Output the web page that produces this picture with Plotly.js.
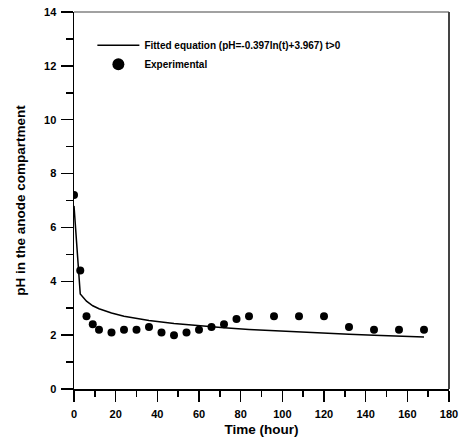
<!DOCTYPE html>
<html>
<head>
<meta charset="utf-8">
<script src="https://cdn.plot.ly/plotly-3.0.1.min.js"></script>
<style>
html,body{margin:0;padding:0;background:#fff;}
#chart{width:459px;height:443px;}
</style>
</head>
<body>
<div id="chart"></div>
<script>
// Experimental data
var timeExp = [0, 3, 6, 9, 12, 18, 24, 30, 36, 42, 48, 54, 60, 66, 72, 78, 84, 96, 108, 120, 132, 144, 156, 168];
var pHExp   = [7.2, 4.4, 2.7, 2.4, 2.2, 2.1, 2.2, 2.2, 2.3, 2.1, 2.0, 2.1, 2.2, 2.3, 2.4, 2.6, 2.7, 2.7, 2.7, 2.7, 2.3, 2.2, 2.2, 2.2];

// Fitted curve
var timeFit = [0, 3, 6, 9, 12, 18, 24, 36, 48, 60, 72, 84, 96, 108, 120, 132, 144, 156, 168];
var pHFit   = [6.8, 3.53, 3.26, 3.09, 2.98, 2.82, 2.70, 2.54, 2.43, 2.34, 2.27, 2.21, 2.16, 2.11, 2.07, 2.03, 2.00, 1.96, 1.93];

var xTicks = [0, 20, 40, 60, 80, 100, 120, 140, 160, 180];
var yTicks = [0, 2, 4, 6, 8, 10, 12, 14];

var fitName = 'Fitted equation (pH=-0.397ln(t)+3.967) t>0';
var expName = 'Experimental';

var FONT = 'Liberation Sans, Arial, Helvetica, sans-serif';

var traces = [
  {x: timeFit, y: pHFit, mode: 'lines', name: fitName, line: {color: '#000', width: 1.5}, showlegend: true},
  {x: timeExp, y: pHExp, mode: 'markers', name: expName, marker: {color: '#000', size: 8}, showlegend: false},
  {x: [null], y: [null], mode: 'markers', name: expName, marker: {color: '#000', size: 12}, showlegend: true}
];

var layout = {
  width: 459, height: 443,
  margin: {l: 74, r: 10, t: 12, b: 54},
  paper_bgcolor: '#fff', plot_bgcolor: '#fff',
  font: {family: FONT, color: '#000', weight: 'bold'},
  showlegend: true,
  legend: {
    x: 0.049, y: 0.95, xanchor: 'left', yanchor: 'top',
    bgcolor: 'rgba(0,0,0,0)', borderwidth: 0,
    itemwidth: 42,
    font: {family: FONT, size: 10, color: '#000', weight: 'bold'},
    tracegroupgap: 0
  },
  xaxis: {
    range: [0, 180], tickmode: 'array', tickvals: xTicks, ticktext: xTicks.map(String),
    showgrid: false, zeroline: false,
    showline: true, linecolor: '#000', linewidth: 1.5,
    ticks: 'outside', ticklen: 11, tickwidth: 1.5, tickcolor: '#000',
    ticklabelstandoff: 3,
    minor: {dtick: 10, tick0: 0, ticks: 'outside', ticklen: 6, tickwidth: 1.5, tickcolor: '#000', showgrid: false},
    tickfont: {family: FONT, size: 11, color: '#000', weight: 'bold'},
    title: {text: 'Time (hour)', font: {family: FONT, size: 13.5, color: '#000', weight: 'bold'}, standoff: 6}
  },
  yaxis: {
    range: [0, 14], tickmode: 'array', tickvals: yTicks, ticktext: yTicks.map(String),
    showgrid: false, zeroline: false,
    showline: true, linecolor: '#000', linewidth: 1.5,
    ticks: 'outside', ticklen: 12, tickwidth: 1.5, tickcolor: '#000',
    ticklabelstandoff: 2,
    minor: {dtick: 1, tick0: 0, ticks: 'outside', ticklen: 7, tickwidth: 1.5, tickcolor: '#000', showgrid: false},
    tickfont: {family: FONT, size: 11, color: '#000', weight: 'bold'},
    title: {text: 'pH in the anode compartment', font: {family: FONT, size: 13.5, color: '#000', weight: 'bold'}, standoff: 15}
  },
  shapes: [
    {type: 'line', xref: 'paper', yref: 'paper', x0: 0, x1: 1, y0: 1, y1: 1, line: {color: '#444', width: 1.2}},
    {type: 'line', xref: 'paper', yref: 'paper', x0: 1, x1: 1, y0: 0, y1: 1, line: {color: '#444', width: 2}}
  ]
};

Plotly.newPlot('chart', traces, layout, {displayModeBar: false, staticPlot: true});
</script>
</body>
</html>
